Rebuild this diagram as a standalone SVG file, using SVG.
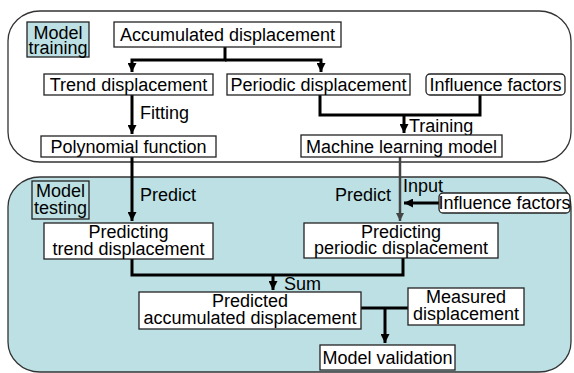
<svg xmlns="http://www.w3.org/2000/svg" width="574" height="373" viewBox="0 0 574 373">
<defs>
<style>
text{font-family:"Liberation Sans",Arial,sans-serif;font-size:18px;fill:#000;text-anchor:middle}
.box{fill:#fff;stroke:#222;stroke-width:1.3}
.tag{stroke:#222;stroke-width:1.3}
.wire{fill:none;stroke:#000;stroke-width:3}
.gray{fill:none;stroke:#444;stroke-width:2.5}
.lbl{text-anchor:start}
</style>
<marker id="ah" viewBox="0 0 10 10" refX="10" refY="5" markerWidth="3" markerHeight="3" orient="auto" markerUnits="strokeWidth">
<path d="M0,0 L10,5 L0,10 z" fill="#000"/>
</marker>
<marker id="ahg" viewBox="0 0 10 10" refX="10" refY="5" markerWidth="3.4" markerHeight="3.4" orient="auto" markerUnits="strokeWidth">
<path d="M0,0 L10,5 L0,10 z" fill="#444"/>
</marker>
</defs>
<g id="training-region">
<rect x="8" y="11" width="563" height="151" rx="32" ry="30" fill="#fff" stroke="#333" stroke-width="1.3"/>
</g>
<g id="testing-region">
<rect x="8" y="177" width="563" height="195" rx="32" ry="30" fill="#BCE0E3" stroke="#333" stroke-width="1.3"/>
</g>
<g id="connectors">
<path class="wire" d="M225,47 V60 H132 V72" marker-end="url(#ah)"/>
<path class="wire" d="M225,60 H321 V72" marker-end="url(#ah)"/>
<path class="wire" d="M132,95 V134" marker-end="url(#ah)"/>
<path class="wire" d="M320,95 V115 H480 V95"/>
<path class="wire" d="M404,115 V133" marker-end="url(#ah)"/>
<path class="wire" d="M132,157 V221" marker-end="url(#ah)"/>
<path class="gray" d="M400,157 V221" marker-end="url(#ahg)"/>
<path class="wire" d="M439,203 H404" marker-end="url(#ah)"/>
<path class="wire" d="M132,259 V275 H403 V258"/>
<path class="wire" d="M273,275 V290" marker-end="url(#ah)"/>
<path class="wire" d="M361,308 H408"/>
<path class="wire" d="M385,308 V343" marker-end="url(#ah)"/>
<text class="lbl" x="140" y="119">Fitting</text>
<text class="lbl" x="409" y="132">Training</text>
<text class="lbl" x="140" y="201">Predict</text>
<text class="lbl" x="335" y="201">Predict</text>
<text class="lbl" x="403" y="192">Input</text>
<text class="lbl" x="284" y="290">Sum</text>
</g>
<g id="model-training-tag">
<rect class="tag" x="27" y="22" width="62" height="35" fill="#BCE0E3"/>
<text x="58" y="39">Model</text>
<text x="58" y="54">training</text>
</g>
<g id="accumulated-displacement">
<rect class="box" x="114" y="22" width="227" height="25"/>
<text x="227.5" y="41">Accumulated displacement</text>
</g>
<g id="trend-displacement">
<rect class="box" x="44" y="74" width="169" height="21"/>
<text x="128.5" y="91">Trend displacement</text>
</g>
<g id="periodic-displacement">
<rect class="box" x="227" y="74" width="183" height="21"/>
<text x="318.5" y="91">Periodic displacement</text>
</g>
<g id="influence-factors-top">
<rect class="box" x="426" y="74" width="139" height="21" rx="4"/>
<text x="495.5" y="91">Influence factors</text>
</g>
<g id="polynomial-function">
<rect class="box" x="41" y="136" width="175" height="21"/>
<text x="128.5" y="153">Polynomial function</text>
</g>
<g id="machine-learning-model">
<rect class="box" x="301" y="135" width="201" height="22"/>
<text x="401.5" y="153">Machine learning model</text>
</g>
<g id="model-testing-tag">
<rect class="tag" x="32" y="181" width="57" height="38" fill="none"/>
<text x="60.5" y="197">Model</text>
<text x="60.5" y="214">testing</text>
</g>
<g id="influence-factors-bottom">
<rect class="box" x="439" y="193" width="131" height="20" rx="4"/>
<text x="504.5" y="209">Influence factors</text>
</g>
<g id="predicting-trend">
<rect class="box" x="44" y="223" width="169" height="36"/>
<text x="128.5" y="238">Predicting</text>
<text x="128.5" y="255">trend displacement</text>
</g>
<g id="predicting-periodic">
<rect class="box" x="304" y="223" width="194" height="35"/>
<text x="401" y="238">Predicting</text>
<text x="401" y="254">periodic displacement</text>
</g>
<g id="predicted-accumulated">
<rect class="box" x="139" y="292" width="222" height="37"/>
<text x="250" y="307">Predicted</text>
<text x="250" y="324">accumulated displacement</text>
</g>
<g id="measured-displacement">
<rect class="box" x="408" y="288" width="116" height="37"/>
<text x="466" y="303">Measured</text>
<text x="466" y="320">displacement</text>
</g>
<g id="model-validation">
<rect class="box" x="320" y="345" width="135" height="25"/>
<text x="387.5" y="364">Model validation</text>
</g>
</svg>
